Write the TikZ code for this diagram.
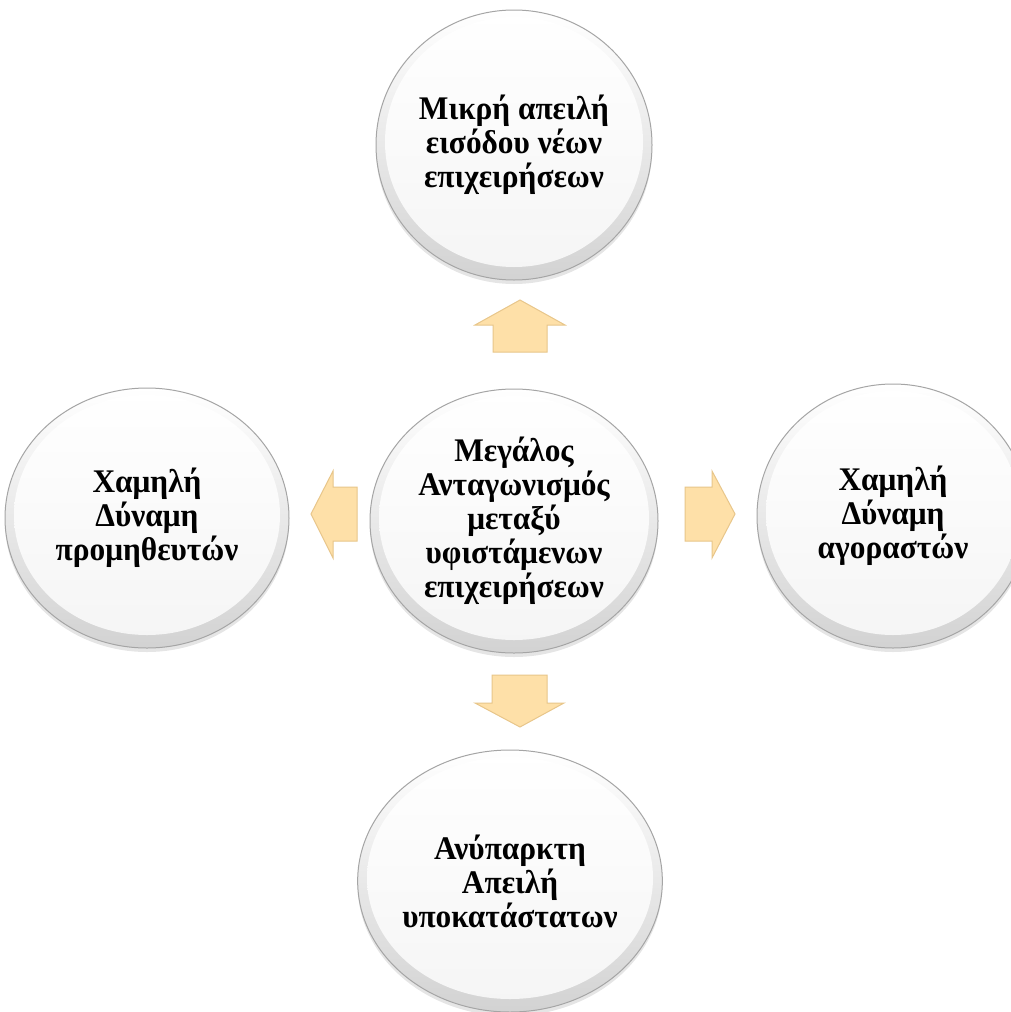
\documentclass[tikz,border=0pt]{standalone}
\usepackage{fontspec}
\setmainfont{Liberation Serif}[FakeStretch=0.95]
\usetikzlibrary{shapes.geometric,shadows}
\definecolor{arrowfill}{RGB}{254,224,168}
\definecolor{arrowedge}{RGB}{232,198,138}
\definecolor{rim}{RGB}{165,165,165}
\newcommand\lbltext{\fontsize{33}{34}\selectfont\bfseries}
\begin{document}
\begin{tikzpicture}[x=1pt,y=-1pt,
  btn/.style 2 args={ellipse, minimum width=#1, minimum height=#2, inner sep=0pt,
    align=center, font=\lbltext, draw=rim, line width=1pt,
    top color=white, bottom color=gray!35,
    drop shadow={shadow xshift=0pt, shadow yshift=-4pt, opacity=0.1, fill=black},
    path picture={\shade[top color=white, bottom color=gray!8]
      ([yshift=3pt]path picture bounding box.center)
      ellipse [x radius={#1/2-9pt}, y radius={#2/2-10pt}];}},
  arr/.style={fill=arrowfill, draw=arrowedge, line width=1pt, line join=miter}
]
\useasboundingbox (0,0) rectangle (1011,1012);
\fill[white] (0,0) rectangle (1011,1012);

\node[btn={276pt}{270pt}] (top) at (514,145) {Μικρή απειλή\\εισόδου νέων\\επιχειρήσεων};
\node[btn={288pt}{264pt}] (mid) at (514,521) {Μεγάλος\\Ανταγωνισμός\\μεταξύ\\υφιστάμενων\\επιχειρήσεων};
\node[btn={284pt}{260pt}] (left) at (147,518) {Χαμηλή\\Δύναμη\\προμηθευτών};
\node[btn={272pt}{264pt}] (right) at (893,516) {Χαμηλή\\Δύναμη\\αγοραστών};
\node[btn={304pt}{262pt}] (bot) at (510,881) {Ανύπαρκτη\\Απειλή\\υποκατάστατων};

% up arrow
\draw[arr] (520,300) -- (565,325) -- (547,325) -- (547,352) -- (493,352) -- (493,325) -- (475,325) -- cycle;
% down arrow
\draw[arr] (520,727) -- (564,703) -- (547,703) -- (547,675) -- (492,675) -- (492,703) -- (475,703) -- cycle;
% left arrow
\draw[arr] (311,514) -- (333,471) -- (333,487) -- (357,487) -- (357,541) -- (333,541) -- (333,558) -- cycle;
% right arrow
\draw[arr] (735,514) -- (712,471) -- (712,487) -- (685,487) -- (685,541) -- (712,541) -- (712,558) -- cycle;
\end{tikzpicture}
\end{document}
